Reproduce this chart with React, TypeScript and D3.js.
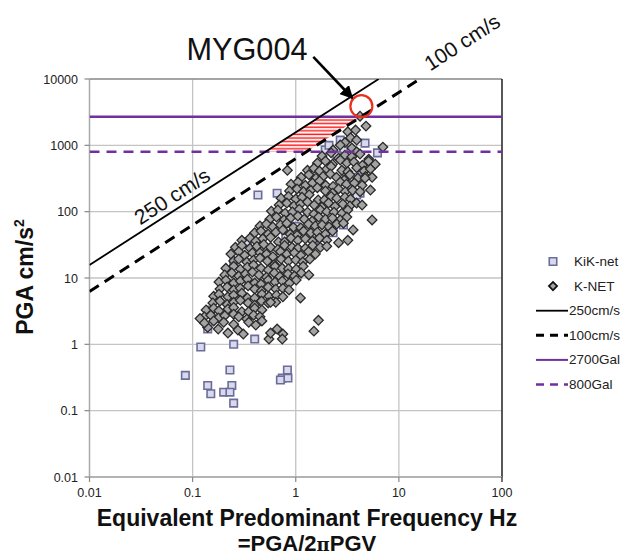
import React from "react";
import * as d3 from "d3";

// chart values (frequency Hz, PGA cm/s²)
const freqTicks = [0.01, 0.1, 1, 10, 100];
const freqTickLabels = ["0.01", "0.1", "1", "10", "100"];
const pgaTicks = [0.01, 0.1, 1, 10, 100, 1000, 10000];
const pgaTickLabels = ["0.01", "0.1", "1", "10", "100", "1000", "10000"];

const velocityLevels = [250, 100]; // cm/s
const galLevels = [2700, 800]; // Gal

const myg004 = [4.33, 3900];
const arrowFrom = [1.48, 21500];
const arrowTo = [3.54, 5170];

const kiknet: [number, number][] = [
  [1.93, 850], [2.7, 1200], [2.9, 880], [6.2, 770], [4.7, 1080], [2.1, 1000], [4.4, 420], [3.6, 330],
  [4.2, 190], [3.9, 178], [2.25, 59], [2.9, 63], [2.3, 48], [1.86, 41], [1.5, 37], [0.43, 178],
  [0.66, 190], [0.34, 35], [0.25, 16.8], [0.15, 3.3], [0.14, 1.7],
  [1.5, 300], [2.0, 150], [1.0, 60], [0.6, 20], [0.35, 8], [0.8, 40], [3.0, 400], [2.5, 700],
  [1.2, 200], [0.5, 12], [0.3, 5], [0.45, 30], [1.8, 90], [3.5, 250],
  [0.085, 0.34], [0.12, 0.91], [0.25, 1.0], [0.4, 1.2], [0.14, 0.24], [0.15, 0.18], [0.23, 0.41],
  [0.24, 0.24], [0.2, 0.19], [0.23, 0.19], [0.25, 0.13], [0.74, 0.31], [0.83, 0.41], [0.84, 0.31],
  [0.71, 0.29],
];

const knet: [number, number][] = [
  [4.2, 2750], [4.8, 1950], [3.2, 1600], [3.8, 1700], [3.4, 1300], [3.9, 1200], [3.0, 1100], [3.5, 910],
  [3.9, 800], [7.0, 940], [2.7, 1010], [2.3, 850],
  [1.8, 690], [2.2, 770], [2.6, 640], [3.0, 710], [3.5, 670], [4.2, 740], [5.1, 620],
  [1.62, 540], [1.94, 580], [2.27, 520], [2.7, 600], [3.13, 540], [3.67, 560], [4.43, 500], [5.08, 580], [5.9, 520],
  [1.3, 420], [1.5, 450], [1.7, 410], [2.0, 440], [2.2, 480], [2.8, 420], [3.2, 400], [3.9, 460], [4.6, 410], [5.3, 440],
  [1.13, 330], [1.34, 360], [1.57, 320], [1.84, 340], [2.16, 370], [2.48, 330], [2.95, 300], [3.35, 360], [4.0, 320], [4.75, 340], [5.5, 330],
  [0.9, 260], [1.05, 280], [1.24, 250], [1.45, 270], [1.7, 290], [1.95, 250], [2.3, 240], [2.7, 280], [3.1, 260], [3.7, 270], [4.4, 250],
  [0.87, 205], [1.03, 220], [1.19, 200], [1.4, 210], [1.62, 230], [1.94, 205], [2.27, 190], [2.6, 220], [3.02, 200], [3.56, 210], [4.2, 200],
  [0.72, 160], [0.85, 170], [1.0, 155], [1.15, 165], [1.35, 180], [1.65, 150], [1.9, 150], [2.2, 170], [2.5, 160], [3.0, 165], [3.4, 155],
  [0.69, 126], [0.82, 135], [0.96, 122], [1.11, 130], [1.3, 140], [1.51, 126], [1.79, 117], [2.08, 135], [2.4, 120], [2.86, 130], [3.35, 122], [3.89, 135],
  [0.58, 102], [0.67, 106], [0.79, 95], [0.93, 99], [1.08, 109], [1.3, 98], [1.5, 92], [1.73, 106], [2.0, 100], [2.35, 98], [2.8, 95], [3.2, 106],
  [0.56, 77], [0.65, 83], [0.77, 75], [0.89, 80], [1.05, 86], [1.21, 77], [1.44, 72], [1.67, 83], [1.94, 77], [2.27, 80], [2.7, 75], [3.13, 83],
  [0.45, 61], [0.52, 65], [0.6, 59], [0.71, 63], [0.82, 67], [0.95, 58], [1.12, 57], [1.33, 65], [1.55, 61], [1.8, 63], [2.1, 59], [2.5, 65],
  [0.4, 48], [0.46, 51], [0.54, 46], [0.64, 49], [0.75, 53], [0.88, 46], [1.03, 44], [1.19, 51], [1.4, 48], [1.62, 49], [1.94, 46], [2.27, 51],
  [0.3, 37], [0.36, 40], [0.41, 36], [0.48, 39], [0.57, 41], [0.68, 35], [0.78, 35], [0.9, 40], [1.05, 37], [1.24, 39], [1.45, 36], [1.7, 40], [2.0, 37],
  [0.26, 29], [0.3, 31], [0.36, 28], [0.42, 30], [0.49, 32], [0.57, 29], [0.67, 27], [0.78, 31], [0.92, 29], [1.05, 28], [1.24, 28], [1.46, 31], [1.73, 29], [2.0, 30],
  [0.235, 23], [0.28, 25], [0.32, 22], [0.38, 24], [0.45, 24], [0.52, 23], [0.6, 21], [0.71, 25], [0.82, 23], [0.97, 24], [1.12, 22], [1.33, 25], [1.55, 23],
  [0.25, 18], [0.28, 19.3], [0.335, 17.4], [0.39, 18.6], [0.45, 20], [0.53, 18], [0.62, 16], [0.72, 19.3], [0.85, 18], [1.0, 18.6], [1.17, 17.4], [1.37, 19.3],
  [0.21, 14], [0.25, 15], [0.29, 13.6], [0.34, 14.6], [0.39, 15.7], [0.46, 14], [0.54, 13.2], [0.63, 15], [0.74, 14], [0.85, 13.8], [1.01, 13.6], [1.18, 15],
  [0.205, 11.1], [0.24, 11.9], [0.28, 10.7], [0.325, 11.5], [0.38, 12.3], [0.44, 11.1], [0.52, 10.3], [0.62, 11.9], [0.7, 10.5], [0.84, 11.5], [0.97, 10.7], [1.13, 11.9], [1.34, 11.1],
  [0.18, 8.7], [0.21, 9.3], [0.25, 8.4], [0.29, 9.0], [0.34, 9.6], [0.4, 8.4], [0.46, 8.1], [0.54, 9.3], [0.63, 8.7], [0.74, 9.0], [0.87, 8.4], [1.01, 9.3],
  [0.184, 6.8], [0.216, 7.3], [0.25, 6.6], [0.29, 7.0], [0.345, 7.6], [0.4, 6.8], [0.465, 6.4], [0.54, 7.3], [0.64, 6.8], [0.75, 7.0], [0.86, 6.6],
  [0.16, 5.3], [0.18, 5.7], [0.22, 5.2], [0.25, 5.5], [0.3, 5.9], [0.34, 5.0], [0.4, 5.0], [0.47, 5.7], [0.55, 5.3], [0.65, 5.5], [0.75, 5.2],
  [0.157, 4.2], [0.184, 4.5], [0.216, 4.0], [0.25, 4.3], [0.29, 4.6], [0.345, 4.2], [0.4, 3.9], [0.465, 4.5], [0.54, 4.2], [0.64, 4.3],
  [0.135, 3.3], [0.16, 3.5], [0.18, 3.2], [0.22, 3.4], [0.25, 3.6], [0.3, 3.1], [0.35, 3.1], [0.4, 3.5], [0.47, 3.3],
  [0.13, 2.6], [0.15, 2.75], [0.178, 2.5], [0.205, 2.7], [0.25, 2.85], [0.28, 2.6], [0.335, 2.4], [0.39, 2.75], [0.45, 2.6],
  [0.118, 2.45], [0.14, 1.8], [0.177, 1.7], [0.22, 1.48], [0.275, 1.64], [0.31, 1.43], [0.55, 1.2], [0.57, 1.48],
  [0.66, 1.7], [0.75, 1.43], [0.74, 1.2], [1.5, 1.58], [1.66, 2.3], [1.11, 5.0], [0.57, 4.3], [0.13, 2.1],
  [0.16, 2.25], [0.2, 2.15], [0.25, 2.0], [0.35, 2.15], [0.41, 1.95], [0.47, 2.25],
  [5.5, 75], [4.4, 126], [5.3, 212], [4.7, 320], [3.6, 53], [3.2, 37], [2.6, 34], [2.9, 67], [0.83, 420],
];

const legendItems = ["KiK-net", "K-NET", "250cm/s", "100cm/s", "2700Gal", "800Gal"];

const FONT = "'Liberation Sans', Arial, sans-serif";
const PURPLE = "#7030a0";

export default function App() {
  const W = 630;
  const H = 556;
  const left = 89.5;
  const right = 502;
  const top = 79;
  const bottom = 477;

  const x = d3.scaleLog().domain([0.01, 100]).range([left, right]);
  const y = d3.scaleLog().domain([0.01, 10000]).range([bottom, top]);

  const twoPi = 2 * Math.PI;
  const velLine = (v: number) => {
    const fMax = Math.min(100, 10000 / (twoPi * v));
    return d3.line<number>()
      .x((f) => x(f))
      .y((f) => y(twoPi * v * f))([0.01, fMax]);
  };

  // band between the two velocity lines and the two Gal levels
  const hatch = [
    [galLevels[0] / (twoPi * velocityLevels[0]), galLevels[0]],
    [galLevels[0] / (twoPi * velocityLevels[1]), galLevels[0]],
    [galLevels[1] / (twoPi * velocityLevels[1]), galLevels[1]],
    [galLevels[1] / (twoPi * velocityLevels[0]), galLevels[1]],
  ];
  const hatchPath = d3.line<number[]>().x((d) => x(d[0])).y((d) => y(d[1]))(hatch) + "Z";

  const square = d3.symbol(d3.symbolSquare, 56)();
  const diamond = d3.symbol(d3.symbolSquare, 46)();

  const legY = (i: number) => 261.5 + i * 24.6;
  const legX = 553;

  return (
    <svg width={W} height={H} style={{ position: "absolute", left: 0, top: 0, background: "#fff" }} fontFamily={FONT}>
      <defs>
        <clipPath id="plot">
          <rect x={left} y={top} width={right - left} height={bottom - top} />
        </clipPath>
        <pattern id="hatch" patternUnits="userSpaceOnUse" width={6} height={3.6}>
          <rect width={6} height={3.6} fill="#fff" />
          <line x1={0} x2={6} y1={1.2} y2={1.2} stroke="#ff1a1a" strokeWidth={1.5} />
        </pattern>
        <marker id="arrow" viewBox="0 0 10 10" refX={9} refY={5} markerWidth={5} markerHeight={5} orient="auto">
          <path d="M0,0 L10,5 L0,10 z" fill="#000" />
        </marker>
      </defs>

      {/* grid */}
      {freqTicks.map((f) => (
        <line key={"gx" + f} x1={x(f)} x2={x(f)} y1={top} y2={bottom} stroke="#c4c4c4" strokeWidth={1.3} />
      ))}
      {pgaTicks.map((p) => (
        <line key={"gy" + p} x1={left} x2={right} y1={y(p)} y2={y(p)} stroke="#c4c4c4" strokeWidth={1.3} />
      ))}

      {/* axes frame */}
      <line x1={left} x2={right} y1={top} y2={top} stroke="#777" strokeWidth={1.2} />
      <line x1={right} x2={right} y1={top} y2={bottom} stroke="#111" strokeWidth={1.3} />
      <line x1={left} x2={left} y1={top} y2={bottom} stroke="#a8a8a8" strokeWidth={1.3} />
      <line x1={left} x2={right} y1={bottom} y2={bottom} stroke="#a8a8a8" strokeWidth={1.3} />
      {pgaTicks.map((p) => (
        <line key={"ty" + p} x1={left - 5} x2={left} y1={y(p)} y2={y(p)} stroke="#888" strokeWidth={1.2} />
      ))}
      {freqTicks.map((f, i) => (
        <line key={"tx" + f} x1={x(f)} x2={x(f)} y1={bottom} y2={bottom + 5} stroke={i === freqTicks.length - 1 ? "#111" : "#888"} strokeWidth={1.2} />
      ))}

      {/* tick labels */}
      {pgaTicks.map((p, i) => (
        <text key={"ly" + p} x={78} y={y(p) + 4.5} textAnchor="end" fontSize={12.5} fill="#222">
          {pgaTickLabels[i]}
        </text>
      ))}
      {freqTicks.map((f, i) => (
        <text key={"lx" + f} x={x(f)} y={497} textAnchor="middle" fontSize={12.5} fill="#222">
          {freqTickLabels[i]}
        </text>
      ))}

      <g clipPath="url(#plot)">
        <path d={hatchPath} fill="url(#hatch)" />

        {kiknet.map((d, i) => (
          <path key={"k" + i} d={square!} transform={`translate(${x(d[0])},${y(d[1])})`}
            fill="#d9d9ec" stroke="#6c6c9c" strokeWidth={1.6} />
        ))}
        {knet.map((d, i) => (
          <path key={"n" + i} d={diamond!} transform={`translate(${x(d[0])},${y(d[1])}) rotate(45)`}
            fill="#a3a3a3" stroke="#2a2a2a" strokeWidth={1.3} />
        ))}

        {galLevels.map((g, i) => (
          <line key={"gal" + g} x1={left} x2={right} y1={y(g)} y2={y(g)} stroke={PURPLE}
            strokeWidth={2.6} strokeDasharray={i === 1 ? "10,7" : undefined} />
        ))}

        {velocityLevels.map((v, i) => (
          <path key={"v" + v} d={velLine(v)!} fill="none" stroke="#000"
            strokeWidth={i === 0 ? 1.8 : 3} strokeDasharray={i === 1 ? "11,7" : undefined} />
        ))}
      </g>

      <circle cx={x(myg004[0])} cy={y(myg004[1])} r={11} fill="none" stroke="#e8301c" strokeWidth={2.2} />
      <line x1={x(arrowFrom[0])} y1={y(arrowFrom[1])} x2={x(arrowTo[0])} y2={y(arrowTo[1])}
        stroke="#000" strokeWidth={2.6} markerEnd="url(#arrow)" />

      <text x={247} y={60} textAnchor="middle" fontSize={31} textLength={121} lengthAdjust="spacingAndGlyphs" fill="#111">MYG004</text>
      <text transform="translate(172,196) rotate(-32.8)" textAnchor="middle" dominantBaseline="central" fontSize={21} fill="#111">250 cm/s</text>
      <text transform="translate(462,42) rotate(-32.8)" textAnchor="middle" dominantBaseline="central" fontSize={21} fill="#111">100 cm/s</text>

      {/* legend */}
      <path d={square!} transform={`translate(${legX},${legY(0)})`} fill="#d9d9ec" stroke="#6c6c9c" strokeWidth={1.6} />
      <path d={d3.symbol(d3.symbolSquare, 34)()!} transform={`translate(${legX},${legY(1)}) rotate(45)`} fill="#a3a3a3" stroke="#111" strokeWidth={1.7} />
      <line x1={536} x2={568} y1={legY(2)} y2={legY(2)} stroke="#000" strokeWidth={1.8} />
      <line x1={536} x2={568} y1={legY(3)} y2={legY(3)} stroke="#000" strokeWidth={3} strokeDasharray="8,6" />
      <line x1={536} x2={568} y1={legY(4)} y2={legY(4)} stroke={PURPLE} strokeWidth={2} />
      <line x1={536} x2={568} y1={legY(5)} y2={legY(5)} stroke={PURPLE} strokeWidth={2.4} strokeDasharray="8,6" />
      {legendItems.map((t, i) => (
        <text key={t} x={i < 2 ? 574 : 569} y={legY(i) + 4.5} fontSize={13.5} fill="#222">{t}</text>
      ))}

      {/* axis titles */}
      <text transform="translate(33,277) rotate(-90)" textAnchor="middle" fontSize={23} fontWeight="bold" fill="#111">
        PGA cm/s<tspan fontSize={14} dy={-9}>2</tspan>
      </text>
      <text x={307} y={526} textAnchor="middle" fontSize={23} fontWeight="bold" fill="#111">
        Equivalent Predominant Frequency Hz
      </text>
      <text x={307} y={551} textAnchor="middle" fontSize={22} fontWeight="bold" fill="#111">
        =PGA/2<tspan fontSize={18} fontFamily="'DejaVu Serif', serif">π</tspan>PGV
      </text>
    </svg>
  );
}
